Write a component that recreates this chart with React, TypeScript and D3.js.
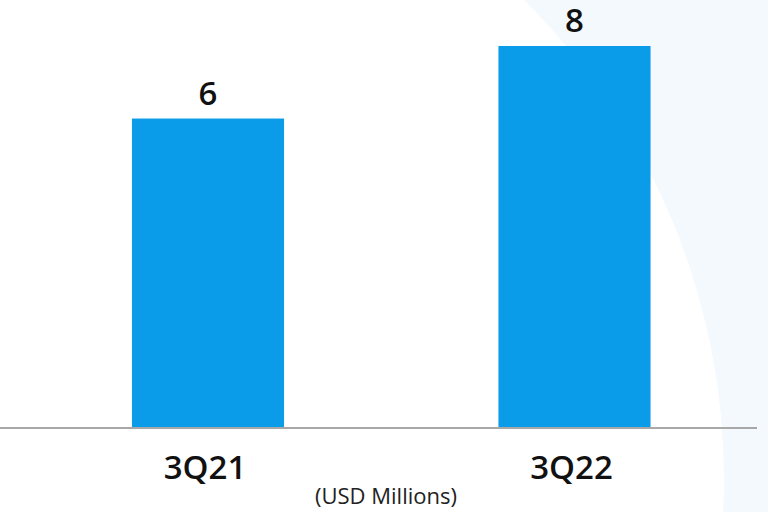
import React from "react";
import * as d3 from "d3";

const categories = ["3Q21", "3Q22"];
const values = [6.4, 7.9];
const valueLabels = ["6", "8"];
const unitLabel = "(USD Millions)";

const W = 768;
const H = 512;
const FONT = "'Open Sans', 'DejaVu Sans', sans-serif";

export default function App() {
  const x = d3
    .scaleBand<string>()
    .domain(categories)
    .range([24.75, 757.75])
    .paddingInner(0.585)
    .paddingOuter(0.2925);
  const y = d3.scaleLinear().domain([0, 7.9]).range([428, 46]);
  const baseY = y(0);

  return (
    <svg
      width={W}
      height={H}
      style={{ position: "absolute", left: 0, top: 0, display: "block" }}
    >
      <defs>
        <clipPath id="pg">
          <rect x={0} y={0} width={W} height={H} />
        </clipPath>
      </defs>
      <rect x={0} y={0} width={W} height={H} fill="#f4f9fe" />
      <circle cx={48} cy={480} r={676} fill="#ffffff" clipPath="url(#pg)" />
      {categories.map((c, i) => (
        <g key={c}>
          <rect
            x={x(c)}
            y={y(values[i])}
            width={x.bandwidth()}
            height={baseY - y(values[i])}
            fill="#0a9be9"
          />
          <text
            x={(x(c) as number) + x.bandwidth() / 2}
            y={y(values[i]) - 14}
            textAnchor="middle"
            fontFamily={FONT}
            fontSize={33}
            fontWeight={600}
            fill="#111"
          >
            {valueLabels[i]}
          </text>
          <text
            x={(x(c) as number) + x.bandwidth() / 2 - 3}
            y={479}
            textAnchor="middle"
            fontFamily={FONT}
            fontSize={33}
            fontWeight={600}
            fill="#111"
          >
            {c}
          </text>
        </g>
      ))}
      <line x1={0} x2={757} y1={baseY} y2={baseY} stroke="#a8a8a8" strokeWidth={2} />
      <text
        x={386}
        y={504}
        textAnchor="middle"
        fontFamily={FONT}
        fontSize={22}
        fill="#222"
      >
        {unitLabel}
      </text>
    </svg>
  );
}
